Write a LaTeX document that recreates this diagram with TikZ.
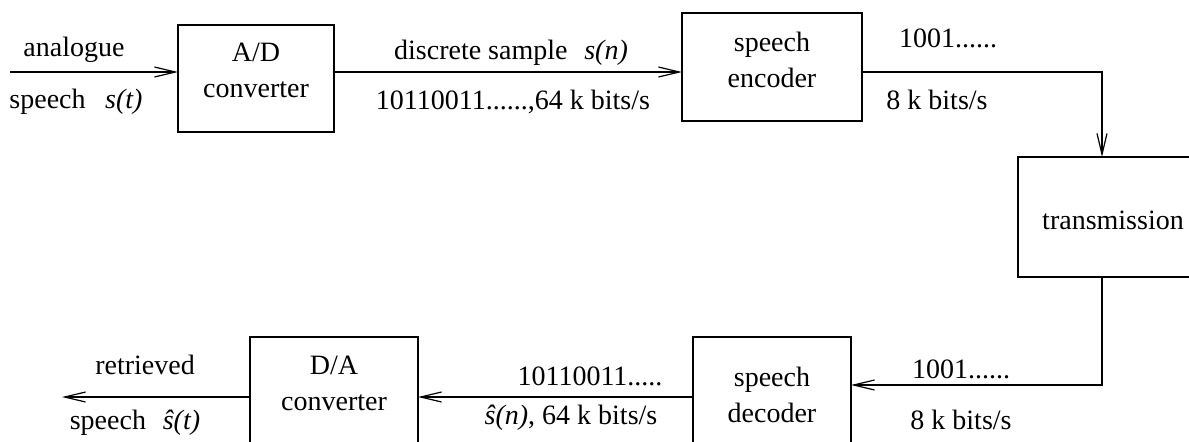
\documentclass[tikz,border=0pt]{standalone}
\usepackage{fontspec}
\setmainfont{Liberation Serif}
\usetikzlibrary{arrows.meta}
\begin{document}
\begin{tikzpicture}[x=0.5pt,y=-0.5pt,
  every node/.style={font=\fontsize{14}{18}\selectfont, inner sep=0pt, outer sep=0pt},
  blk/.style={draw, line width=0.6pt, minimum width=#1},
  txt/.style={align=center},
  conn/.style={line width=0.6pt},
  arr/.style={conn, -{Straight Barb[length=10.5pt,width=5pt,line width=0.6pt]}}]
\useasboundingbox (0,0) rectangle (1189,441);
\clip (0,0) rectangle (1189,441);
% boxes
\node[blk=78pt, minimum height=53.5pt] (AD) at (256,78.5) {};
\node[blk=90pt, minimum height=54pt] (ENC) at (772,67) {};
\node[blk=96pt, minimum height=60pt] (TR) at (1114,217) {};
\node[blk=79pt, minimum height=66.5pt] (DEC) at (772,403.5) {};
\node[blk=84pt, minimum height=66.5pt] (DA) at (334,403.5) {};
% box texts
\node[txt] (ADt) at (256,70) {A/D\\converter};
\node[txt] (ENCt) at (772,60) {speech\\encoder};
\node[txt] (TRt) at (1113,220) {transmission};
\node[txt] (DECt) at (772,395) {speech\\decoder};
\node[txt] (DAt) at (334,383) {D/A\\converter};
% coordinates
\coordinate (in) at (10,72);
\coordinate (tx) at (1102,0);
\coordinate (r2) at (1102,385);
\coordinate (r3) at (0,397);
\coordinate (out) at (62,397);
% connectors
\draw[arr] (in) -- (in -| AD.west);
\draw[arr] (AD.east |- in) -- (ENC.west |- in);
\draw[arr] (ENC.east |- in) -| (tx |- TR.north);
\draw[arr] (tx |- TR.south) -- (r2) -- (r2 -| DEC.east);
\draw[arr] (DEC.west |- r3) -- (DA.east |- r3);
\draw[arr] (DA.west |- r3) -- (out);
% labels
\node (l1) at (74,50) {analogue};
\node (l2) at (76,102) {speech\hspace{0.7em}\textit{s(t)}};
\node (l3) at (511,53) {discrete sample\hspace{0.6em}\textit{s(n)}};
\node (l4) at (513,102) {10110011......,64 k bits/s};
\node (l5) at (948,38) {1001......};
\node (l6) at (937,100) {8 k bits/s};
\node (l7) at (961,369) {1001......};
\node (l8) at (961,420) {8 k bits/s};
\node (l9) at (590,376) {10110011.....};
\node (l10) at (571,418) {\textit{ŝ(n)}, 64 k bits/s};
\node (l11) at (145,365) {retrieved};
\node (l12) at (135,423) {speech\hspace{0.6em}\textit{ŝ(t)}};
\end{tikzpicture}
\end{document}
